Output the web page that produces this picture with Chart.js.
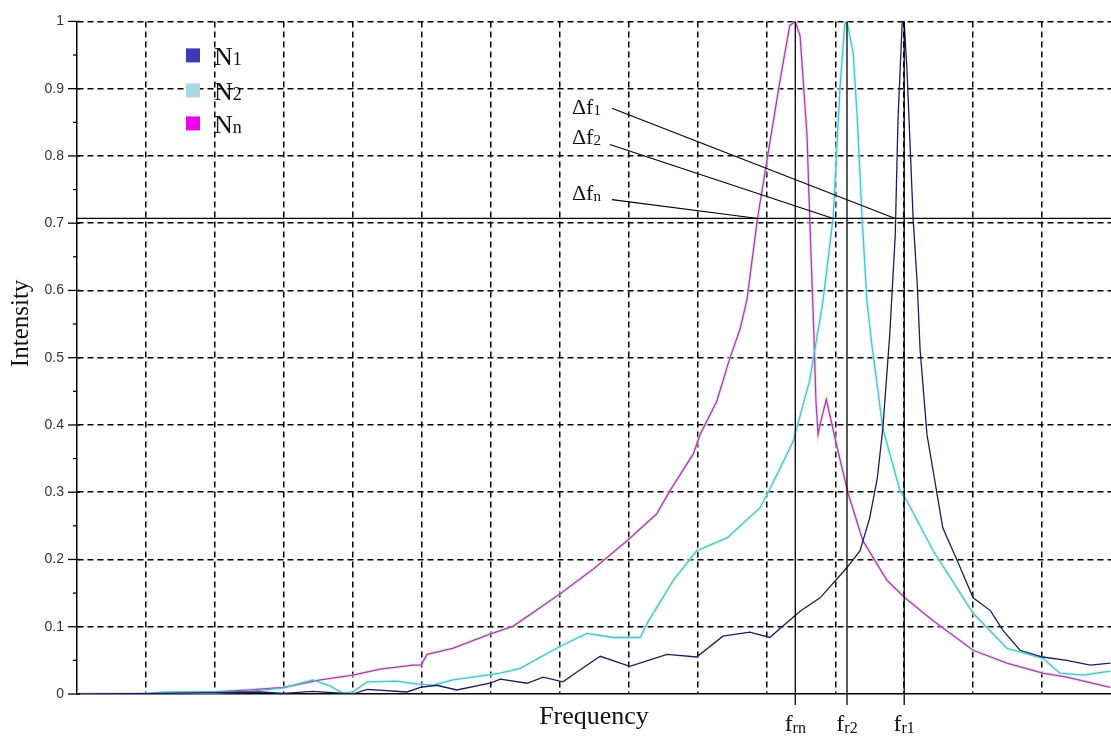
<!DOCTYPE html>
<html><head><meta charset="utf-8">
<script src="https://cdn.jsdelivr.net/npm/chart.js@4.4.1/dist/chart.umd.min.js"></script>
<style>html,body{margin:0;padding:0;background:#fff;}canvas{display:block;}</style>
</head><body>
<canvas id="c" width="1111" height="736"></canvas>
<script>
// ---- data (frequency in grid units, intensity normalised) ----
const nnFreq = [0,0.99,1.99,2.51,3.0,3.53,4.0,4.40,4.87,4.99,5.08,5.45,5.99,6.33,7.01,7.49,7.98,8.41,8.60,8.94,9.04,9.28,9.47,9.62,9.72,9.87,10.01,10.20,10.34,10.42,10.49,10.59,10.63,10.69,10.72,10.75,10.79,10.87,11.03,11.19,11.40,11.75,12.01,12.42,13.0,13.49,14.01,14.36,14.99];
const nnInt  = [0,0,0.003,0.006,0.010,0.021,0.028,0.037,0.043,0.043,0.059,0.068,0.089,0.101,0.149,0.186,0.228,0.268,0.302,0.357,0.386,0.435,0.499,0.543,0.587,0.706,0.794,0.913,0.994,1.0,0.978,0.830,0.706,0.534,0.435,0.386,0.405,0.438,0.365,0.297,0.228,0.169,0.143,0.109,0.065,0.046,0.031,0.025,0.010];

const n2Freq = [0,0.99,1.28,1.78,2.51,3.0,3.42,3.67,3.86,4.0,4.21,4.64,4.93,5.16,5.45,5.66,5.95,6.14,6.43,7.01,7.40,7.78,8.17,8.27,8.65,8.99,9.43,9.91,10.16,10.39,10.63,10.82,10.97,11.07,11.14,11.17,11.26,11.32,11.39,11.46,11.53,11.69,11.94,12.04,12.42,13.0,13.49,14.01,14.26,14.59,14.99];
const n2Int  = [0,0,0.003,0.003,0.004,0.009,0.021,0.012,0.001,0.003,0.018,0.019,0.015,0.013,0.021,0.024,0.028,0.031,0.038,0.071,0.090,0.084,0.084,0.105,0.169,0.213,0.232,0.277,0.327,0.376,0.467,0.583,0.709,0.904,0.997,1.0,0.953,0.854,0.706,0.583,0.52,0.395,0.302,0.287,0.213,0.120,0.068,0.053,0.031,0.028,0.034];

const n1Freq = [0,1.28,1.99,2.65,3.0,3.42,4.0,4.21,4.79,4.98,5.22,5.51,5.99,6.14,6.53,6.76,7.05,7.30,7.59,8.02,8.56,8.99,9.37,9.76,10.05,10.24,10.49,10.78,11.17,11.36,11.50,11.61,11.69,11.79,11.87,11.91,11.97,12.0,12.04,12.08,12.13,12.19,12.23,12.33,12.56,12.77,13.0,13.25,13.43,13.68,14.01,14.36,14.70,14.99];
const n1Int  = [0,0.001,0.002,0.003,0.001,0.004,0,0.007,0.003,0.010,0.013,0.006,0.016,0.022,0.016,0.025,0.018,0.036,0.056,0.041,0.059,0.055,0.086,0.092,0.084,0.101,0.123,0.143,0.188,0.213,0.262,0.321,0.395,0.534,0.682,0.854,0.997,1.0,0.928,0.830,0.706,0.608,0.513,0.386,0.247,0.198,0.143,0.124,0.095,0.065,0.055,0.050,0.043,0.046];

const seriesNames = [['N','1'],['N','2'],['N','n']];
const yTickValues = [0,0.1,0.2,0.3,0.4,0.5,0.6,0.7,0.8,0.9,1];
const yTickLabels = ['0','0.1','0.2','0.3','0.4','0.5','0.6','0.7','0.8','0.9','1'];

// resonance markers & half-power level
const resonanceFreq = [10.42, 11.17, 12.0];
const resonanceLabels = [['f','rn'],['f','r2'],['f','r1']];
const halfPower = 0.707;
const widthLabels = [['\u0394f','1'],['\u0394f','2'],['\u0394f','n']];
const widthLabelAt = [[7.18,0.862],[7.18,0.817],[7.18,0.734]];
const widthLeaderFrom = [[7.76,0.871],[7.73,0.817],[7.76,0.735]];
const widthLeaderTo = [[11.87,0.707],[10.97,0.707],[9.88,0.707]];

const pts = (xs, ys) => xs.map((v,i)=>({x:v,y:ys[i]}));

const SERIF = '"Liberation Serif", "Times New Roman", serif';
const SANS = '"Liberation Sans", Arial, sans-serif';

function drawSub(ctx, main, sub, x, y, mainSize, subSize, subDy, align){
  ctx.font = mainSize + 'px ' + SERIF;
  const wm = ctx.measureText(main).width;
  ctx.font = subSize + 'px ' + SERIF;
  const ws = ctx.measureText(sub).width;
  let sx = x;
  if (align === 'center') sx = x - (wm + ws) / 2;
  ctx.textAlign = 'left';
  ctx.textBaseline = 'alphabetic';
  ctx.font = mainSize + 'px ' + SERIF;
  ctx.fillText(main, sx, y);
  ctx.font = subSize + 'px ' + SERIF;
  ctx.fillText(sub, sx + wm, y + subDy);
}

const overlay = {
  id: 'overlay',
  beforeDraw(chart){
    const ctx = chart.ctx;
    ctx.save(); ctx.fillStyle = '#fff'; ctx.fillRect(0,0,chart.width,chart.height); ctx.restore();
  },
  afterDatasetsDraw(chart){
    const {ctx, chartArea:a, scales:{x, y}} = chart;
    ctx.save();
    ctx.strokeStyle = '#000';
    ctx.fillStyle = '#111';
    ctx.lineWidth = 1.3;
    ctx.setLineDash([]);
    // half-power line
    const hy = y.getPixelForValue(halfPower);
    ctx.beginPath(); ctx.moveTo(a.left, hy); ctx.lineTo(a.right, hy); ctx.stroke();
    // resonance lines + labels
    resonanceFreq.forEach((f,i)=>{
      const px = x.getPixelForValue(f);
      ctx.beginPath(); ctx.moveTo(px, a.top); ctx.lineTo(px, a.bottom + 11); ctx.stroke();
      drawSub(ctx, resonanceLabels[i][0], resonanceLabels[i][1], px, a.bottom + 37, 24, 16, 2, 'center');
    });
    // width leaders
    ctx.lineWidth = 1.1;
    widthLeaderFrom.forEach((p,i)=>{
      const q = widthLeaderTo[i];
      ctx.beginPath();
      ctx.moveTo(x.getPixelForValue(p[0]), y.getPixelForValue(p[1]));
      ctx.lineTo(x.getPixelForValue(q[0]), y.getPixelForValue(q[1]));
      ctx.stroke();
      const t = widthLabelAt[i];
      drawSub(ctx, widthLabels[i][0], widthLabels[i][1], x.getPixelForValue(t[0]), y.getPixelForValue(t[1]), 22, 15, 1, 'left');
    });
    // y tick marks
    ctx.lineWidth = 1.3;
    yTickValues.forEach(v=>{
      const py = y.getPixelForValue(v);
      ctx.beginPath(); ctx.moveTo(a.left - 9, py); ctx.lineTo(a.left + 3, py); ctx.stroke();
    });
    for (let i = 0; i < yTickValues.length - 1; i++){
      const py = y.getPixelForValue((yTickValues[i] + yTickValues[i+1]) / 2);
      ctx.beginPath(); ctx.moveTo(a.left - 4, py); ctx.lineTo(a.left, py); ctx.stroke();
    }
    // legend
    const legendColors = ['#3a3ab4', '#a8d8e2', '#ee00ee'];
    const lx = a.left + 109, ly = [a.top + 34, a.top + 69, a.top + 102];
    seriesNames.forEach((nm,i)=>{
      ctx.fillStyle = legendColors[i];
      ctx.fillRect(lx, ly[i] - 7, 14, 14);
      ctx.fillStyle = '#111';
      drawSub(ctx, nm[0], nm[1], lx + 28, ly[i] + 10, 26, 18, 0, 'left');
    });
    // y axis title
    ctx.save();
    ctx.translate(21, a.top + 302);
    ctx.rotate(-Math.PI/2);
    ctx.font = '25px ' + SERIF;
    ctx.textAlign = 'center'; ctx.textBaseline = 'middle';
    ctx.fillText('Intensity', 0, 0);
    ctx.restore();
    ctx.restore();
  }
};

const navy = '#1c1c5e', cyan = '#4cc4c4', mag = '#9a46a0';
new Chart(document.getElementById('c'), {
  type: 'line',
  data: {
    datasets: [
      {label:'N1', data: pts(n1Freq, n1Int), borderColor: navy, borderWidth: 1.3, pointRadius: 0, tension: 0, order: 0},
      {label:'N2', data: pts(n2Freq, n2Int), borderColor: cyan, borderWidth: 1.3, pointRadius: 0, tension: 0, order: 1},
      {label:'Nn', data: pts(nnFreq, nnInt), borderColor: mag, borderWidth: 1.3, pointRadius: 0, tension: 0, order: 2},
      {label:'N2 halo', data: pts(n2Freq, n2Int), borderColor: 'rgba(190,242,245,0.6)', borderWidth: 3.5, pointRadius: 0, tension: 0, order: 10},
      {label:'Nn halo', data: pts(nnFreq, nnInt), borderColor: 'rgba(248,205,248,0.6)', borderWidth: 3.5, pointRadius: 0, tension: 0, order: 11}
    ]
  },
  options: {
    responsive: false,
    animation: false,
    devicePixelRatio: 1,
    layout: {padding: {top: 18, left: 0, right: 0, bottom: 0}},
    plugins: {legend: {display: false}, tooltip: {enabled: false}},
    scales: {
      x: {
        type: 'linear', min: 0, max: 15,
        afterFit(s){ s.height = 42; },
        ticks: {display: false, stepSize: 1},
        grid: {color: c => (c.tick && (c.tick.value === 0 || c.tick.value === 15)) ? 'rgba(0,0,0,0)' : '#000', lineWidth: 1.5, drawTicks: false},
        border: {display: true, color: '#000', width: 1.5, dash: [6,4]},
        title: {display: true, text: 'Frequency', color: '#111', font: {family: SERIF, size: 26}, padding: {top: 0, bottom: 3}}
      },
      y: {
        type: 'linear', min: 0, max: 1,
        afterFit(s){ s.width = 77; },
        afterBuildTicks(s){ s.ticks = yTickValues.map(v=>({value:v})); },
        ticks: {color: '#333', font: {family: SANS, size: 14}, padding: 13,
                callback: (v) => yTickLabels[yTickValues.findIndex(t => Math.abs(t - v) < 1e-6)]},
        grid: {color: c => (c.tick && c.tick.value === 0) ? 'rgba(0,0,0,0)' : '#000', lineWidth: 1.5, drawTicks: false},
        border: {display: true, color: '#000', width: 1.5, dash: [6,4]}
      }
    }
  },
  plugins: [overlay]
});
</script>
</body></html>
